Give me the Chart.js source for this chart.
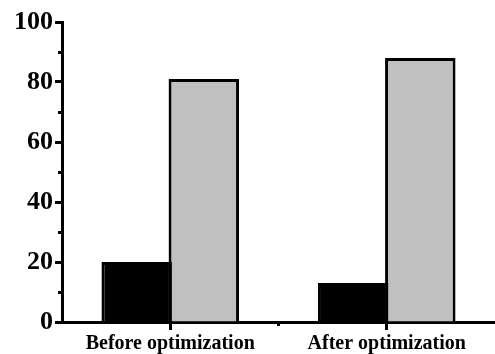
<!DOCTYPE html>
<html>
<head>
<meta charset="utf-8">
<script src="https://cdn.jsdelivr.net/npm/chart.js@4/dist/chart.umd.min.js"></script>
<style>
  html, body { margin: 0; padding: 0; background: #fff; }
  #chart { display: block; }
</style>
</head>
<body>
<canvas id="chart" width="495" height="354"></canvas>
<script>
// Data
const categories = ["Before optimization", "After optimization"]
const blackValues = [20, 13]
const greyValues = [81, 88]
const yTicks = [0, 20, 40, 60, 80, 100]
const yMinorTicks = [10, 30, 50, 70, 90]

const fontFamily = "'Liberation Serif', 'Times New Roman', serif"

// small extra ticks: y minors and the boundary between categories
const minorTicks = {
  id: "minorTicks",
  afterDraw(chart) {
    const ctx = chart.ctx
    const y = chart.scales.y
    const x = chart.scales.x
    const area = chart.chartArea
    ctx.save()
    ctx.strokeStyle = "#000"
    ctx.lineWidth = 3
    yMinorTicks.forEach((v) => {
      const py = Math.round(y.getPixelForValue(v)) + 0.5
      ctx.beginPath()
      ctx.moveTo(area.left - 4, py)
      ctx.lineTo(area.left, py)
      ctx.stroke()
    })
    for (let i = 0; i < categories.length - 1; i++) {
      const px = (x.getPixelForValue(i) + x.getPixelForValue(i + 1)) / 2
      ctx.beginPath()
      ctx.moveTo(px, area.bottom)
      ctx.lineTo(px, area.bottom + 4)
      ctx.stroke()
    }
    ctx.restore()
  },
}

new Chart(document.getElementById("chart"), {
  type: "bar",
  data: {
    labels: categories,
    datasets: [
      {
        data: blackValues,
        backgroundColor: "#000000",
        borderColor: "#000000",
        borderWidth: 3,
        barPercentage: 1.05,
        categoryPercentage: 0.62,
      },
      {
        data: greyValues,
        backgroundColor: "#c0c0c0",
        borderColor: "#000000",
        borderWidth: 3,
        barPercentage: 1.05,
        categoryPercentage: 0.62,
      },
    ],
  },
  options: {
    responsive: false,
    animation: false,
    layout: { padding: { top: 22, right: 0, left: 0, bottom: 0 } },
    plugins: {
      legend: { display: false },
      tooltip: { enabled: false },
    },
    scales: {
      x: {
        grid: {
          offset: false,
          drawOnChartArea: false,
          tickLength: 8,
          tickWidth: 3,
          tickColor: "#000",
        },
        border: { color: "#000", width: 3 },
        ticks: {
          color: "#000",
          padding: 2,
          maxRotation: 0,
          font: { family: fontFamily, size: 20, weight: "bold" },
        },
        afterFit: (scale) => {
          scale.height = 32
        },
      },
      y: {
        min: 0,
        max: 100,
        afterBuildTicks: (scale) => {
          scale.ticks = yTicks.map((v) => ({ value: v }))
        },
        grid: {
          drawOnChartArea: false,
          tickLength: 7,
          tickWidth: 3,
          tickColor: "#000",
        },
        border: { color: "#000", width: 3 },
        ticks: {
          color: "#000",
          padding: 2,
          font: { family: fontFamily, size: 26, weight: "bold" },
        },
        afterFit: (scale) => {
          scale.width = 62
        },
      },
    },
  },
  plugins: [minorTicks],
})
</script>
</body>
</html>
